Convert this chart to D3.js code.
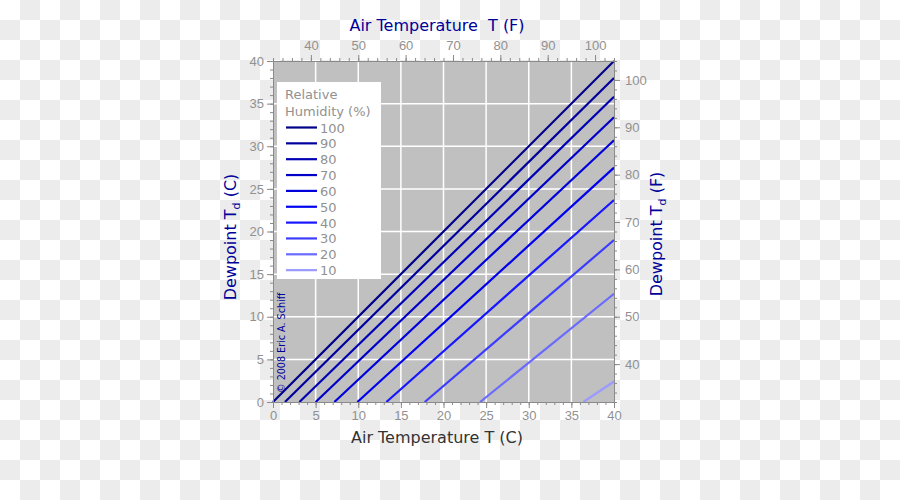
<!DOCTYPE html>
<html>
<head>
<meta charset="utf-8">
<script src="https://cdn.jsdelivr.net/npm/d3@7"></script>
<style>
  body { margin: 0; }
  svg { font-family: "DejaVu Sans", sans-serif; }
  .axis text { fill: #919191; font-size: 13px; }
  .axis path, .axis line { stroke: #8a8a8a; }
</style>
</head>
<body>
<svg width="900" height="500"></svg>
<script>
// relative humidity curves
var humidity = [100, 90, 80, 70, 60, 50, 40, 30, 20, 10];
// air temperature (C) where each curve crosses dewpoint 0 C
var tempAtZeroDew = [0, 1.4, 3.1, 5.0, 7.2, 9.9, 13.3, 17.8, 24.3, 36.4];
// dewpoint (C) of each curve at air temperature 40 C
var dewAtForty = [40, 38.0, 35.8, 33.4, 30.7, 27.5, 23.7, 19.0, 12.7, 2.4];

var celsiusTicks = [0, 5, 10, 15, 20, 25, 30, 35, 40];
var fahrenheitTicks = [40, 50, 60, 70, 80, 90, 100];

var lineColors = ["#000088", "#00009e", "#0000b4", "#0000c9", "#0000dd",
                  "#0000f0", "#1616ff", "#3c3cff", "#6a6aff", "#9a9aff"];

var svg = d3.select("svg");

// checkerboard backdrop
var defs = svg.append("defs");
var pat = defs.append("pattern")
  .attr("id", "checks")
  .attr("width", 40).attr("height", 40)
  .attr("patternUnits", "userSpaceOnUse");
pat.append("rect").attr("width", 40).attr("height", 40).attr("fill", "#fff");
pat.append("rect").attr("x", 20).attr("width", 20).attr("height", 20).attr("fill", "#ececec");
pat.append("rect").attr("y", 20).attr("width", 20).attr("height", 20).attr("fill", "#ececec");
svg.append("rect").attr("width", 900).attr("height", 500).attr("fill", "url(#checks)");

var pArea = [273, 61, 614, 402];

var xScale = d3.scaleLinear().domain([0, 40]).range([pArea[0], pArea[2]]);
var yScale = d3.scaleLinear().domain([0, 40]).range([pArea[3], pArea[1]]);
var xScaleF = d3.scaleLinear().domain([32, 104]).range([pArea[0], pArea[2]]);
var yScaleF = d3.scaleLinear().domain([32, 104]).range([pArea[3], pArea[1]]);

var g = svg.append("g");

// plot background + white grid
g.append("rect")
  .attr("x", pArea[0]).attr("y", pArea[1])
  .attr("width", pArea[2] - pArea[0]).attr("height", pArea[3] - pArea[1])
  .attr("fill", "#c0c0c0");

var inner = celsiusTicks.slice(1, -1);
g.selectAll(".vgrid").data(inner).enter().append("line")
  .attr("x1", d => xScale(d)).attr("x2", d => xScale(d))
  .attr("y1", pArea[1]).attr("y2", pArea[3])
  .attr("stroke", "#fff").attr("stroke-width", 1.5);
g.selectAll(".hgrid").data(inner).enter().append("line")
  .attr("x1", pArea[0]).attr("x2", pArea[2])
  .attr("y1", d => yScale(d)).attr("y2", d => yScale(d))
  .attr("stroke", "#fff").attr("stroke-width", 1.5);

// humidity lines
var line = d3.line().x(d => xScale(d[0])).y(d => yScale(d[1]));
g.selectAll(".rh").data(humidity).enter().append("path")
  .attr("class", "rh")
  .attr("d", (d, i) => line([[tempAtZeroDew[i], 0], [40, dewAtForty[i]]]))
  .attr("fill", "none")
  .attr("stroke", (d, i) => lineColors[i])
  .attr("stroke-width", 2.2);

// axes: minor ticks first, then labelled majors
function addAxis(axisFn, scale, pos, minor, major, pad) {
  var tr = pos[0] === "x" ? `translate(0,${pos[1]})` : `translate(${pos[1]},0)`;
  g.append("g").attr("class", "axis").attr("transform", tr)
    .call(axisFn(scale).tickValues(minor).tickSize(3).tickSizeOuter(0).tickFormat(""));
  g.append("g").attr("class", "axis").attr("transform", tr)
    .call(axisFn(scale).tickValues(major).tickSize(6).tickSizeOuter(0).tickPadding(pad).tickFormat(d3.format("d")));
}
addAxis(d3.axisBottom, xScale, ["x", pArea[3]], d3.range(0, 41, 1), celsiusTicks, 3);
addAxis(d3.axisLeft, yScale, ["y", pArea[0]], d3.range(0, 41, 1), celsiusTicks, 3);
addAxis(d3.axisTop, xScaleF, ["x", pArea[1]], d3.range(32, 105, 2), fahrenheitTicks, 5);
addAxis(d3.axisRight, yScaleF, ["y", pArea[2]], d3.range(32, 105, 2), fahrenheitTicks, 5);

// axis titles
g.append("text")
  .attr("x", 437).attr("y", 443)
  .attr("text-anchor", "middle")
  .attr("fill", "#333").attr("font-size", 16)
  .text("Air Temperature T (C)");

g.append("text")
  .attr("x", 437).attr("y", 31)
  .attr("text-anchor", "middle")
  .attr("fill", "#000099").attr("font-size", 16)
  .attr("xml:space", "preserve")
  .text("Air Temperature  T (F)");

function dewLabel(x, y, unit) {
  var t = g.append("text")
    .attr("transform", `translate(${x},${y}) rotate(-90)`)
    .attr("text-anchor", "middle")
    .attr("fill", "#000099").attr("font-size", 16);
  t.append("tspan").text("Dewpoint T");
  t.append("tspan").attr("font-size", 11).attr("dy", 4).text("d");
  t.append("tspan").attr("dy", -4).text(" (" + unit + ")");
}
dewLabel(236, 237, "C");
dewLabel(662, 234, "F");

// copyright
g.append("text")
  .attr("transform", "translate(284.5,393) rotate(-90)")
  .attr("fill", "#000099").attr("font-size", 9.6)
  .text("© 2008 Eric A. Schiff");

// legend
var leg = g.append("g").attr("transform", "translate(277,82)");
leg.append("rect").attr("width", 104).attr("height", 197).attr("fill", "#fff");
leg.append("text").attr("x", 8).attr("y", 17)
  .attr("fill", "#919191").attr("font-size", 13).text("Relative");
leg.append("text").attr("x", 8).attr("y", 34)
  .attr("fill", "#919191").attr("font-size", 13).text("Humidity (%)");
var items = leg.selectAll(".item").data(humidity).enter().append("g")
  .attr("transform", (d, i) => `translate(0,${45.5 + i * 15.85})`);
items.append("line")
  .attr("x1", 9).attr("x2", 40)
  .attr("stroke", (d, i) => lineColors[i]).attr("stroke-width", 2.2);
items.append("text")
  .attr("x", 43).attr("y", 5)
  .attr("fill", "#919191").attr("font-size", 13)
  .text(d => d);
</script>
</body>
</html>
